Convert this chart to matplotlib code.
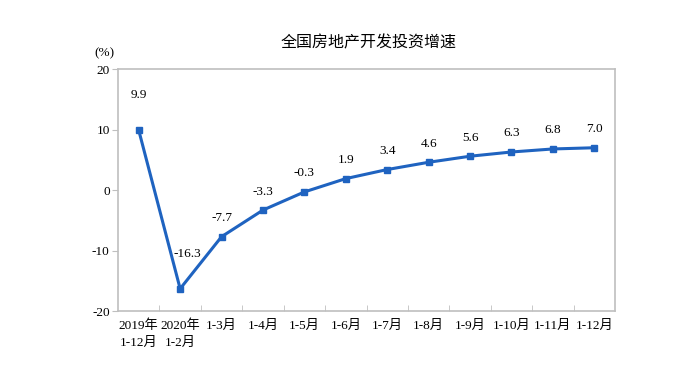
import matplotlib
matplotlib.use("Agg")
from matplotlib import pyplot as plt
import numpy as np

# data
periods = ["2019年\n1-12月", "2020年\n1-2月", "1-3月", "1-4月", "1-5月", "1-6月",
           "1-7月", "1-8月", "1-9月", "1-10月", "1-11月", "1-12月"]
growth = [9.9, -16.3, -7.7, -3.3, -0.3, 1.9, 3.4, 4.6, 5.6, 6.3, 6.8, 7.0]
y_ticks = [-20, -10, 0, 10, 20]

serif = ["Liberation Serif", "Noto Sans CJK SC"]
sans = ["Noto Sans CJK SC", "DejaVu Sans"]
blue = "#1f63c0"
grey = "#bfbfbf"

fig = plt.figure(figsize=(7, 3.86), dpi=100)
ax = fig.add_axes([0.1686, 0.194, 0.71, 0.627])

x = np.arange(len(growth)) + 0.5
ax.plot(x, growth, color=blue, lw=2.2, marker="s", ms=4, zorder=3)

# label offsets in points (a few labels sit higher in the original)
extra = {0: 21, 1: 21}
for i, v in enumerate(growth):
    dy = extra.get(i, 9)
    dx = 5 if i == 1 else 0
    ax.annotate("%.1f" % v, (x[i], v), xytext=(dx, dy), textcoords="offset points",
                ha="center", va="bottom", fontsize=9.5, family=serif)

ax.set_xlim(0, len(growth))
ax.set_ylim(-20, 20)
ax.set_yticks(y_ticks)
ax.set_yticklabels([str(t) for t in y_ticks], family=serif, fontsize=9.5)

ax.set_xticks(x)
ax.set_xticklabels(periods, family=serif, fontsize=9.5, linespacing=1.5, va="top")
ax.tick_params(axis="x", length=0, pad=6)
ax.set_xticks(np.arange(1, len(growth)), minor=True)
ax.tick_params(axis="x", which="minor", direction="in", length=4, color=grey)
ax.tick_params(axis="y", direction="out", length=4, color=grey, pad=2)

for s in ax.spines.values():
    s.set_color(grey)
    s.set_linewidth(1.2)

ax.text(-0.027, 1.04, "(%)", transform=ax.transAxes, ha="center", va="bottom",
        family=serif, fontsize=9.5)
fig.text(0.526, 0.888, "全国房地产开发投资增速", ha="center", va="center",
         family=sans, fontsize=11.5)

fig.savefig("out.png", dpi=100, facecolor="white")
